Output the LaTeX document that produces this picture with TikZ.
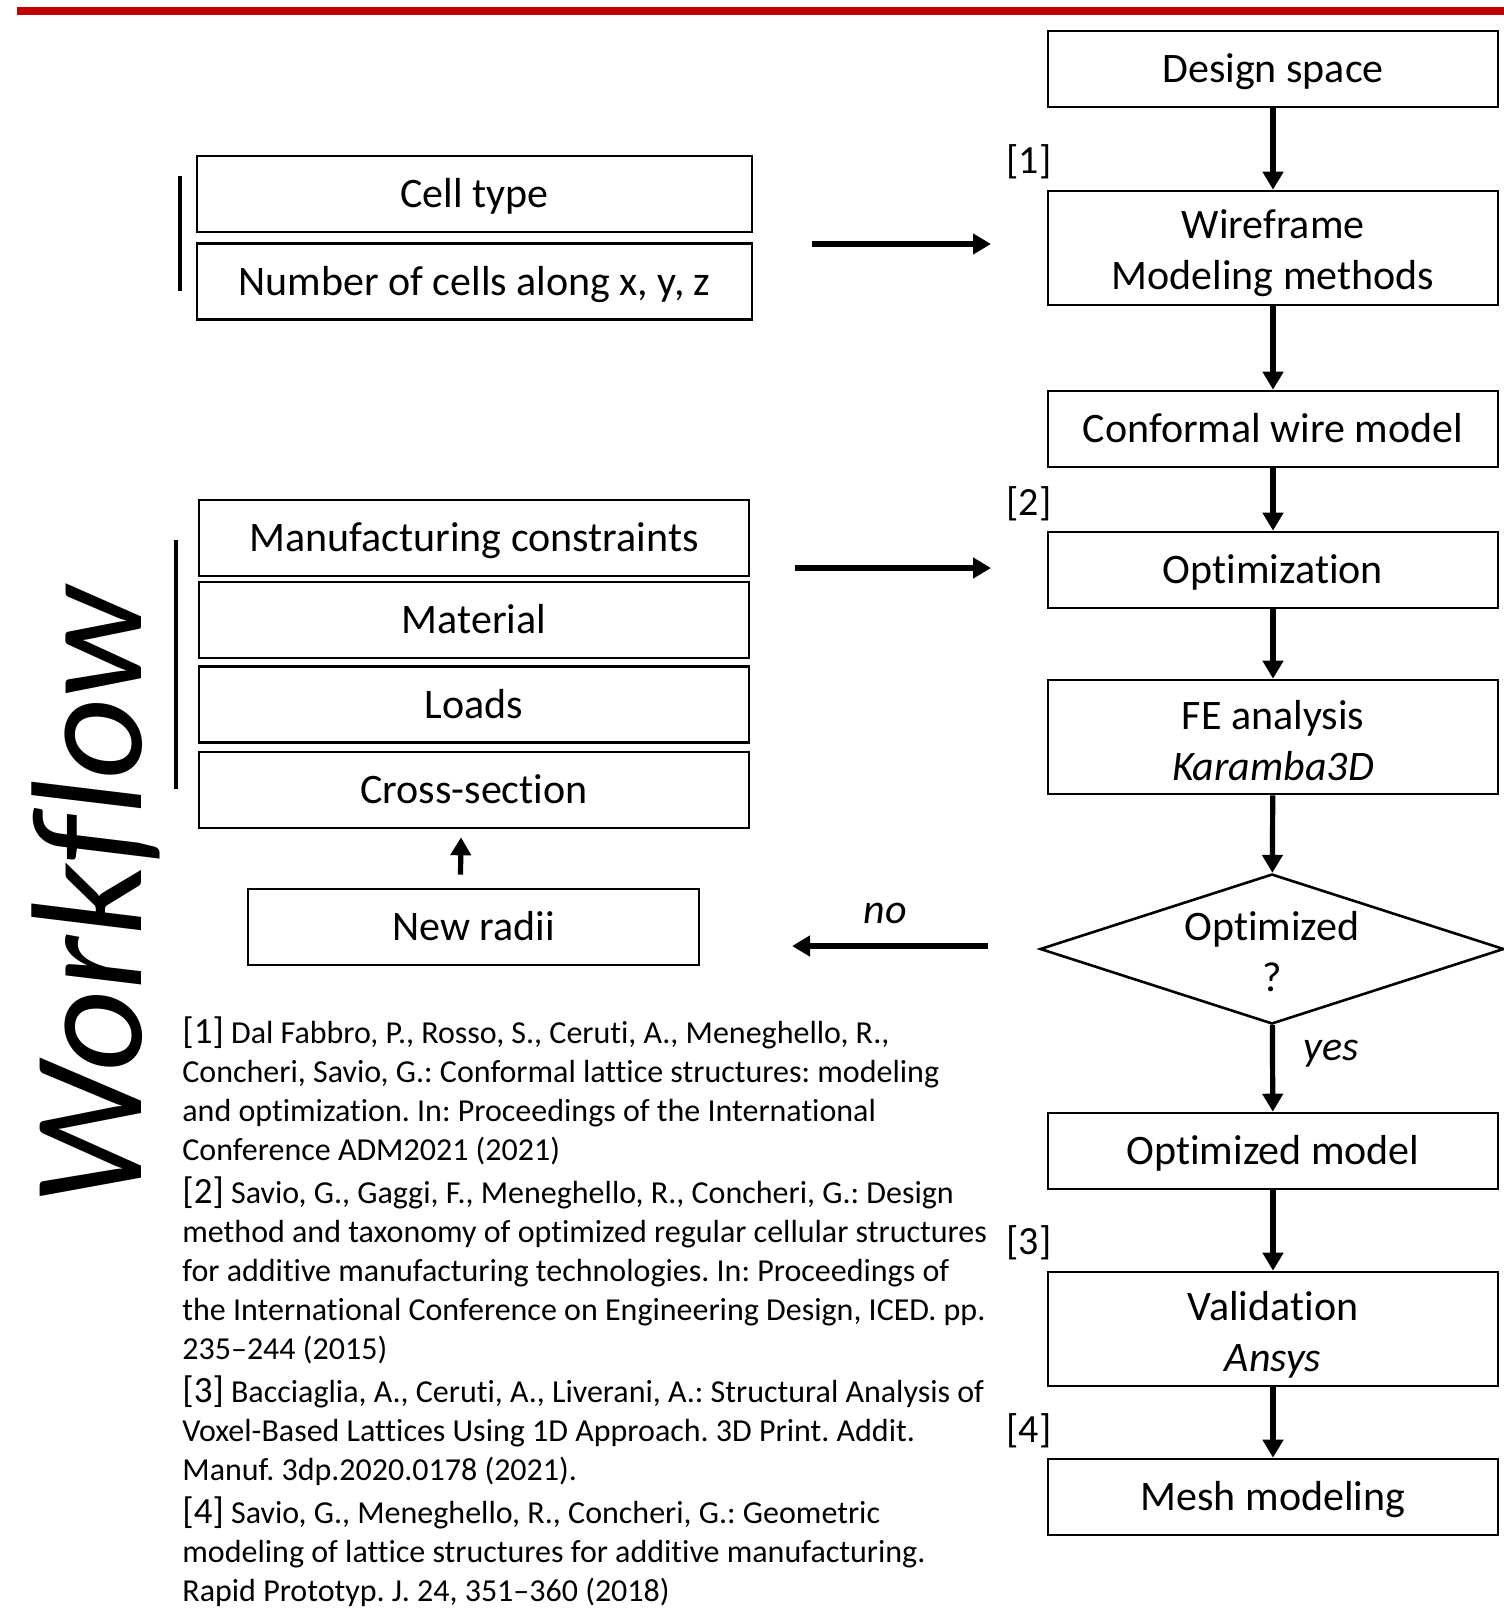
\documentclass[tikz,border=0pt]{standalone}
\usepackage{fontspec}
\setmainfont[Ligatures={TeX,NoCommon}]{Carlito}
\usetikzlibrary{arrows.meta,shapes.geometric,positioning}

\definecolor{barred}{RGB}{192,0,0}
\newcommand{\boxfont}{\fontsize{21}{25.5}\selectfont}
\newcommand{\reffont}{\fontsize{16}{19.5}\selectfont}
\newcommand{\refno}[1]{{\fontsize{18.5}{19.5}\selectfont[#1]}}
\newcommand{\tallstrut}{\rule{0pt}{20pt}}
\frenchspacing

\tikzset{
	stepbox/.style={draw, line width=1.3pt, align=center, font=\boxfont, inner sep=0pt, minimum height=38pt, text height=18pt, text depth=4.5pt},
	rightbox/.style={stepbox, minimum width=225pt},
	tallbox/.style={rightbox, minimum height=57pt, text height=, text depth=},
	flow/.style={line width=2.6pt, -{Triangle[length=9pt,width=10pt]}},
	refmark/.style={font=\fontsize{20}{22}\selectfont},
	groupbar/.style={line width=2pt},
}

\begin{document}
\begin{tikzpicture}[x=0.5pt,y=-0.5pt]
	\useasboundingbox (0,0) rectangle (1504,1622);
	\fill[barred] (17,7) rectangle (1504,15);

	% right column
	\node[rightbox] (design) at (1273,69) {Design space};
	\node[tallbox] (wire) at (1273,248) {\tallstrut Wireframe\\Modeling methods};
	\node[rightbox] (conf) at (1273,429) {Conformal wire model};
	\node[rightbox] (optim) at (1273,570) {Optimization};
	\node[tallbox] (fe) at (1273,737) {\rule{0pt}{18.5pt}FE analysis\\\textit{Karamba3D}};
	\node[draw, diamond, line width=1.3pt, aspect=3.1, inner sep=0pt, minimum width=232pt, minimum height=75pt, align=center, font=\boxfont] (check) at (1272,949) {\rule{0pt}{17pt}Optimized\\?};
	\node[rightbox] (optmodel) at (1273,1151) {Optimized model};
	\node[tallbox] (valid) at (1273,1329) {\tallstrut Validation\\\textit{Ansys}};
	\node[rightbox] (mesh) at (1273,1497) {Mesh modeling};

	\node[refmark] (r1) at (1029,162) {[1]};
	\node[refmark] (r2) at (1029,504) {[2]};
	\node[refmark] (r3) at (1029,1243) {[3]};
	\node[refmark] (r4) at (1029,1431) {[4]};

	\draw[flow] (design) -- (wire);
	\draw[flow] (wire) -- (conf);
	\draw[flow] (conf) -- (optim);
	\draw[flow] (optim) -- (fe);
	\draw[flow] (fe) -- (check);
	\draw[flow] (check) -- node[right=11pt, font=\boxfont\itshape, pos=0.33] (yes) {yes} (optmodel);
	\draw[flow] (optmodel) -- (valid);
	\draw[flow] (valid) -- (mesh);

	% left column
	\node[stepbox, minimum width=277.5pt] (cell) at (474.5,194) {Cell type};
	\node[stepbox, minimum width=277.5pt] (ncells) at (474.5,281.5) {Number of cells along x, y, z};
	\node[stepbox, minimum width=275pt] (manuf) at (474,538) {Manufacturing constraints};
	\node[stepbox, minimum width=275pt] (mat) at (474,620) {Material};
	\node[stepbox, minimum width=275pt] (loads) at (474,704.5) {Loads};
	\node[stepbox, minimum width=275pt] (cross) at (474,790) {Cross-section};
	\node[stepbox, minimum width=225.5pt] (radii) at (473.5,927) {New radii};

	\coordinate (bar1a) at (180,176);
	\coordinate (bar1b) at (180,291);
	\coordinate (bar2a) at (176,540);
	\coordinate (bar2b) at (176,789);
	\draw[groupbar] (bar1a) -- (bar1b);
	\draw[groupbar] (bar2a) -- (bar2b);

	\coordinate (in1s) at (812,244);
	\coordinate (in1e) at (991,244);
	\coordinate (in2s) at (795,568);
	\coordinate (in2e) at (991,568);
	\coordinate (nos) at (988,946);
	\coordinate (noe) at (792,946);
	\draw[flow] (in1s) -- (in1e);
	\draw[flow] (in2s) -- (in2e);
	\draw[flow] (nos) -- node[above=6.5pt, xshift=-2.5pt, font=\boxfont\itshape] (no) {no} (noe);
	\draw[flow] ([xshift=-6.5pt,yshift=6.5pt]radii.north) -- ([xshift=-6.5pt,yshift=-4pt]cross.south);

	\node[rotate=90, font=\fontsize{79}{82}\selectfont\itshape] (title) at (96,896) {Workflow};

	% references
	\node[anchor=north west, inner sep=0pt, align=left, font=\reffont] (refs) at (182,1016) {%
		\refno{1} Dal Fabbro, P., Rosso, S., Ceruti, A., Meneghello, R.,\\
		Concheri, Savio, G.: Conformal lattice structures: modeling\\
		and optimization. In: Proceedings of the International\\
		Conference ADM2021 (2021)\\[2pt]
		\refno{2} Savio, G., Gaggi, F., Meneghello, R., Concheri, G.: Design\\
		method and taxonomy of optimized regular cellular structures\\
		for additive manufacturing technologies. In: Proceedings of\\
		the International Conference on Engineering Design, ICED. pp.\\
		235--244 (2015)\\[2pt]
		\refno{3} Bacciaglia, A., Ceruti, A., Liverani, A.: Structural Analysis of\\
		Voxel-Based Lattices Using 1D Approach. 3D Print. Addit.\\
		Manuf. 3dp.2020.0178 (2021).\\[2pt]
		\refno{4} Savio, G., Meneghello, R., Concheri, G.: Geometric\\
		modeling of lattice structures for additive manufacturing.\\
		Rapid Prototyp. J. 24, 351--360 (2018)};
\end{tikzpicture}
\end{document}
